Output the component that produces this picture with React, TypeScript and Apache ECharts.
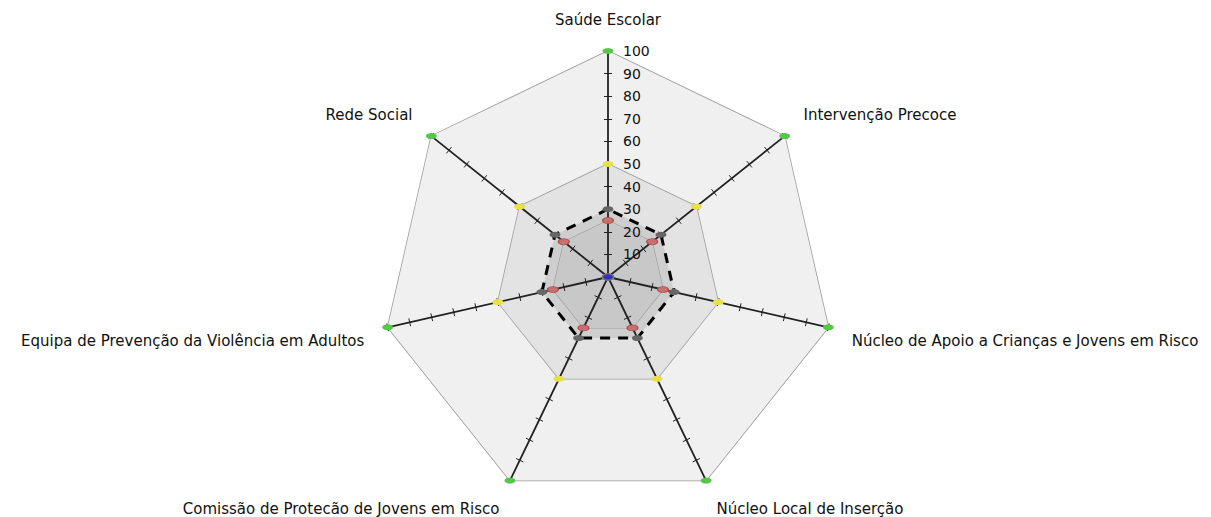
import React, { useEffect, useRef } from "react";
import * as echarts from "echarts";

// Clockwise order as seen in the chart, starting at the top
const categories = [
  "Saúde Escolar",
  "Intervenção Precoce",
  "Núcleo de Apoio a Crianças e Jovens em Risco",
  "Núcleo Local de Inserção",
  "Comissão de Protecão de Jovens em Risco",
  "Equipa de Prevenção da Violência em Adultos",
  "Rede Social",
];
// vertical placement style of each category label (same order as categories)
const labelPlacement = ["top", "up", "side", "down", "down", "side", "up"];
const maxValues = [100, 100, 100, 100, 100, 100, 100];
const midValues = [50, 50, 50, 50, 50, 50, 50];
const dashedValues = [30, 30, 30, 30, 30, 30, 30];
const blobValues = [28, 28, 28, 28, 28, 28, 28];
const redValues = [25, 25, 25, 25, 25, 25, 25];
const zeroValues = [0, 0, 0, 0, 0, 0, 0];
const tickLabels = [10, 20, 30, 40, 50, 60, 70, 80, 90, 100];

// ECharts lays radar indicators counter-clockwise: reorder keeping the first on top
const ccw = <T,>(arr: T[]): T[] => [arr[0], ...arr.slice(1).reverse()];

const FONT = "DejaVu Sans";

export default function App() {
  const ref = useRef<HTMLDivElement>(null);
  useEffect(() => {
    if (!ref.current) return;
    const chart = echarts.init(ref.current, null, { renderer: "svg" });
    const center = [608, 277];
    const radius = 226;
    const indicator = ccw(categories).map((name) => ({ name, max: 100, min: 0 }));
    const baseRadar = {
      center,
      radius,
      startAngle: 90,
      splitNumber: 10,
      shape: "polygon" as const,
      indicator,
      splitLine: { show: false },
      splitArea: { show: false },
      axisLabel: { show: false },
    };
    const nameStyle = { color: "#111", fontSize: 15, fontFamily: FONT };
    const option: any = {
      animation: false,
      backgroundColor: "#fff",
      textStyle: { fontFamily: FONT },
      grid: { left: 608, top: 51, height: 226, width: 1, containLabel: false },
      xAxis: { type: "value", show: false },
      yAxis: {
        type: "value",
        min: 0,
        max: 100,
        interval: 10,
        position: "right",
        z: 10,
        axisLine: { show: false },
        axisTick: { show: false },
        splitLine: { show: false },
        axisLabel: {
          show: true,
          margin: 14,
          color: "#111",
          fontSize: 14,
          fontFamily: FONT,
          formatter: (v: any) => (tickLabels.includes(Number(v)) ? String(v) : ""),
        },
      },
      radar: [
        {
          ...baseRadar,
          z: 0,
          axisLine: { show: false },
          axisTick: { show: false },
          nameGap: 24,
          axisName: {
            ...nameStyle,
            formatter: (name: string) => {
              const p = labelPlacement[categories.indexOf(name)] || "top";
              return `{${p}|${name}}`;
            },
            rich: {
              top: { ...nameStyle },
              up: { ...nameStyle, padding: [0, 0, 12, 0] },
              side: { ...nameStyle, padding: [17, 0, 0, 0] },
              down: { ...nameStyle, padding: [13, 0, 0, 0] },
            },
          },
        },
        {
          ...baseRadar,
          z: 10,
          axisName: { show: false },
          axisLine: { show: true, lineStyle: { color: "#222", width: 1.8 } },
          axisTick: { show: true, length: 4, lineStyle: { color: "#222", width: 1 } },
        },
        {
          ...baseRadar,
          z: 10,
          axisName: { show: false },
          axisLine: { show: false },
          axisTick: { show: true, length: -4, lineStyle: { color: "#222", width: 1 } },
        },
      ],
      series: [
        {
          type: "radar",
          radarIndex: 0,
          z: 2,
          data: [
            {
              value: ccw(maxValues),
              symbol: "none",
              lineStyle: { color: "#999", width: 1.5 },
              areaStyle: { color: "#f0f0f0", opacity: 1 },
            },
            {
              value: ccw(midValues),
              symbol: "none",
              lineStyle: { color: "#999", width: 1.5 },
              areaStyle: { color: "#e3e3e3", opacity: 1 },
            },
            {
              value: ccw(blobValues),
              symbol: "none",
              lineStyle: { color: "#cecece", width: 8, join: "round" },
              areaStyle: { color: "#cecece", opacity: 1 },
            },
            {
              value: ccw(redValues),
              symbol: "none",
              lineStyle: { color: "#9a9a9a", width: 1.2 },
              areaStyle: { color: "#c8c8c8", opacity: 1 },
            },
          ],
        },
        {
          type: "radar",
          radarIndex: 0,
          z: 20,
          data: [
            {
              value: ccw(maxValues),
              symbol: "circle",
              symbolSize: [11, 6],
              itemStyle: { color: "#55c84a" },
              lineStyle: { opacity: 0 },
            },
            {
              value: ccw(midValues),
              symbol: "circle",
              symbolSize: [11, 6],
              itemStyle: { color: "#e6e04a" },
              lineStyle: { opacity: 0 },
            },
            {
              value: ccw(redValues),
              symbol: "circle",
              symbolSize: [11, 6],
              itemStyle: { color: "#c87070", borderColor: "#b05050", borderWidth: 1 },
              lineStyle: { opacity: 0 },
            },
            {
              value: ccw(dashedValues),
              symbol: "circle",
              symbolSize: [11, 6],
              itemStyle: { color: "#666" },
              lineStyle: { color: "#000", width: 3, type: [10, 8] },
            },
            {
              value: ccw(zeroValues),
              symbol: "circle",
              symbolSize: [11, 6],
              itemStyle: { color: "#3030c8", borderColor: "#777", borderWidth: 1 },
              lineStyle: { opacity: 0 },
            },
          ],
        },
      ],
    };
    chart.setOption(option);
    return () => chart.dispose();
  }, []);
  return <div ref={ref} style={{ width: 1211, height: 517, position: "absolute", left: 0, top: 0 }} />;
}
